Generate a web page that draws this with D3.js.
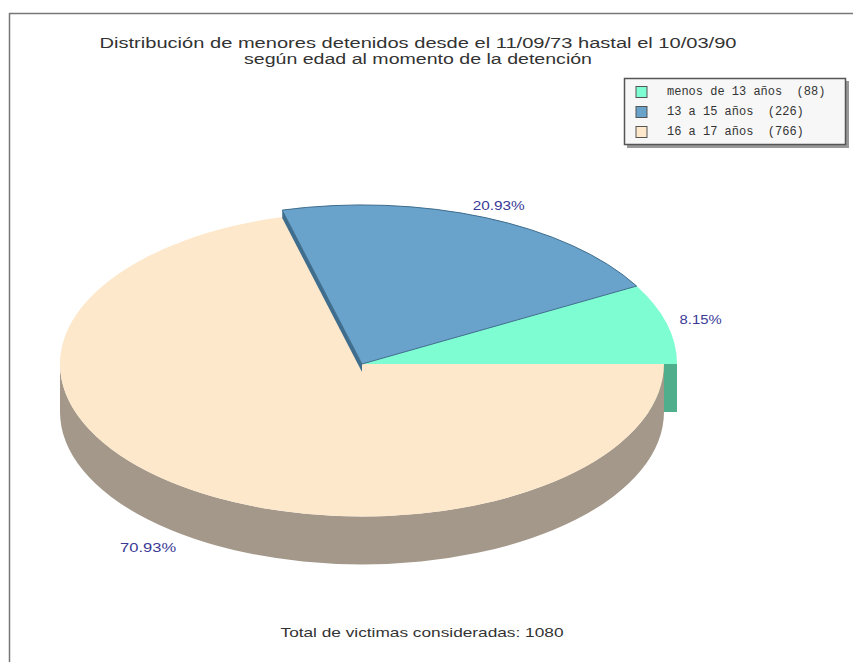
<!DOCTYPE html>
<html>
<head>
<meta charset="utf-8">
<script src="https://cdn.jsdelivr.net/npm/d3@7"></script>
<style>
  body { margin: 0; background: #fff; }
  svg { display: block; }
</style>
</head>
<body>
<div id="chart"></div>
<script>
var categories = ["menos de 13 años", "13 a 15 años", "16 a 17 años"];
var counts = [88, 226, 766];
var percentLabels = ["8.15%", "20.93%", "70.93%"];
var topColors = ["#7ffdd2", "#69a3cc", "#fde8cb"];
var sideColors = ["#4fae8c", "#3f6d8d", "#a3988a"];
var titleLines = ["Distribución de menores detenidos desde el 11/09/73 hastal el 10/03/90",
                  "según edad al momento de la detención"];
var footer = "Total de victimas consideradas: 1080";

var width = 853, height = 662;
var cx = 362, cy = 364;
var tilt = 0.505;     // vertical squash of the pie
var depth = 48;
var radii = [315, 315, 302];   // cream slice sits a little smaller
// the original image is stretched sideways; text widths read off it
var titleWidths = [637, 348];
var pctWidths = [42, 52, 56];
var sansFont = "Liberation Sans, Arial, sans-serif";

var svg = d3.select("#chart").append("svg")
    .attr("width", width)
    .attr("height", height);

// frame (only top and left visible in the original)
svg.append("line").attr("x1", 9.5).attr("y1", 13).attr("x2", 9.5).attr("y2", height)
    .attr("stroke", "#777").attr("stroke-width", 1.5);
svg.append("line").attr("x1", 9).attr("y1", 13.5).attr("x2", width).attr("y2", 13.5)
    .attr("stroke", "#777").attr("stroke-width", 1.5);

// title
svg.selectAll("text.title")
    .data(titleLines)
    .join("text")
    .attr("class", "title")
    .attr("x", 418)
    .attr("y", (d, i) => 48 + i * 16)
    .attr("text-anchor", "middle")
    .attr("font-family", sansFont)
    .attr("font-size", 14)
    .attr("fill", "#333")
    .attr("textLength", (d, i) => titleWidths[i])
    .attr("lengthAdjust", "spacingAndGlyphs")
    .text(d => d);

var pie = d3.pie()
    .sort(null)
    .startAngle(Math.PI / 2)
    .endAngle(Math.PI / 2 - 2 * Math.PI);
var arcs = pie(counts);
arcs.forEach((a, i) => a.r = radii[i]);

function pt(angle, r, dy) {
  return [cx + r * Math.sin(angle), cy - r * tilt * Math.cos(angle) + (dy || 0)];
}
function radialFace(angle, r, d) {
  return d3.line()([pt(angle, 0), pt(angle, r), pt(angle, r, d), pt(angle, 0, d)]) + "Z";
}

var pieG = svg.append("g");

// green cut face at 3 o'clock, only the part beyond the cream slice shows
pieG.append("path")
    .attr("d", radialFace(arcs[0].startAngle, arcs[0].r, depth))
    .attr("fill", sideColors[0]);

// cream front wall
var rc = arcs[2].r, ryc = rc * tilt;
pieG.append("path")
    .attr("d", "M" + (cx + rc) + "," + cy +
      " A" + rc + "," + ryc + " 0 0 1 " + (cx - rc) + "," + cy +
      " L" + (cx - rc) + "," + (cy + depth) +
      " A" + rc + "," + ryc + " 0 0 0 " + (cx + rc) + "," + (cy + depth) + " Z")
    .attr("fill", sideColors[2]);

var topG = pieG.append("g")
    .attr("transform", "translate(" + cx + "," + cy + ") scale(1," + tilt + ")");

// cream top first
topG.append("path")
    .attr("d", d3.arc().innerRadius(0).outerRadius(arcs[2].r)(arcs[2]))
    .attr("fill", topColors[2]);

// blue cut face on its left edge
pieG.append("path")
    .attr("d", radialFace(arcs[1].endAngle, arcs[1].r, 8))
    .attr("fill", sideColors[1]);

var topG2 = pieG.append("g")
    .attr("transform", "translate(" + cx + "," + cy + ") scale(1," + tilt + ")");
topG2.selectAll("path")
    .data(arcs.slice(0, 2))
    .join("path")
    .attr("d", d => d3.arc().innerRadius(0).outerRadius(d.r)(d))
    .attr("fill", (d, i) => topColors[i])
    .attr("stroke", (d, i) => i == 1 ? sideColors[1] : "none")
    .attr("stroke-width", 1)
    .attr("vector-effect", "non-scaling-stroke");

// percentage labels
svg.selectAll("text.pct")
    .data(arcs)
    .join("text")
    .attr("class", "pct")
    .attr("x", d => cx + 350 * Math.sin((d.startAngle + d.endAngle) / 2))
    .attr("y", d => {
      var m = (d.startAngle + d.endAngle) / 2;
      return cy - 172 * Math.cos(m) + (Math.cos(m) < 0 ? depth : 0);
    })
    .attr("text-anchor", "middle")
    .attr("dominant-baseline", "central")
    .attr("font-family", sansFont)
    .attr("font-size", 12)
    .attr("fill", "#3a3a96")
    .attr("textLength", (d, i) => pctWidths[i])
    .attr("lengthAdjust", "spacingAndGlyphs")
    .text((d, i) => percentLabels[i]);

// legend
var legend = svg.append("g").attr("transform", "translate(624,78)");
legend.append("rect").attr("x", 3).attr("y", 3).attr("width", 222).attr("height", 67)
    .attr("fill", "#999");
legend.append("rect").attr("x", 0.5).attr("y", 0.5).attr("width", 221).attr("height", 66)
    .attr("fill", "#f7f7f7").attr("stroke", "#555").attr("stroke-width", 1.5);
var rows = legend.selectAll("g.row")
    .data(categories)
    .join("g")
    .attr("class", "row")
    .attr("transform", (d, i) => "translate(12," + (14 + i * 20) + ")");
rows.append("rect")
    .attr("x", 0).attr("y", -5.5).attr("width", 11).attr("height", 11)
    .attr("fill", (d, i) => topColors[i])
    .attr("stroke", "#555");
rows.append("text")
    .attr("x", 31)
    .attr("y", 0)
    .attr("dominant-baseline", "central")
    .attr("font-family", "Liberation Mono, monospace")
    .attr("font-size", 12)
    .attr("fill", "#333")
    .attr("xml:space", "preserve")
    .text((d, i) => d + "  (" + counts[i] + ")");

// footer
svg.append("text")
    .attr("x", 422)
    .attr("y", 637)
    .attr("text-anchor", "middle")
    .attr("font-family", sansFont)
    .attr("font-size", 13)
    .attr("fill", "#333")
    .attr("textLength", 283)
    .attr("lengthAdjust", "spacingAndGlyphs")
    .text(footer);
</script>
</body>
</html>
